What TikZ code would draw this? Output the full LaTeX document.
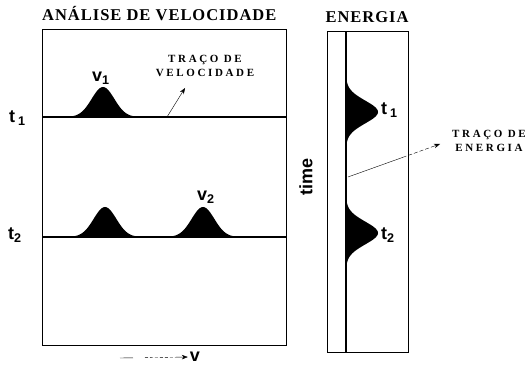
\documentclass[tikz,border=0pt]{standalone}
\usepackage{fontspec}
\setmainfont{Liberation Serif}
\setsansfont{Liberation Sans}
\usetikzlibrary{arrows.meta,positioning}

\begin{document}
\begin{tikzpicture}[x=1pt,y=-1pt,
    panel/.style={draw,line width=1pt},
    trace/.style={line width=1.4pt},
    title/.style={font=\fontsize{16.5}{18}\selectfont\bfseries\addfontfeatures{LetterSpace=6},anchor=base west,inner sep=0pt},
    note/.style={font=\fontsize{11}{14.5}\selectfont\bfseries\addfontfeatures{LetterSpace=24},align=center,inner sep=1pt},
    lab/.style={font=\fontsize{18}{18}\selectfont\sffamily\bfseries,anchor=base west,inner sep=0pt},
    >={Stealth[length=6pt,width=4.5pt]}
  ]
  \useasboundingbox (0,0) rectangle (530,366);

  % velocity panel
  \node[title] (vtitle) at (42,21) {ANÁLISE DE VELOCIDADE};
  \draw[panel] (42,30) rectangle (286,345);
  \draw[trace] (42,117) -- (286,117);
  \draw[trace] (42,237) -- (286,237);
  \foreach \cx/\cy in {103/117,105/237,203/237}
    \fill plot[domain=-36:36,samples=49] ({\cx+\x},{\cy-30*exp(-((\x)*(\x)/256))}) -- cycle;

  \node[lab] (vone) at (92,82) {v\textsubscript{1}};
  \node[lab] (vtwo) at (197,201) {v\textsubscript{2}};
  \node[lab] (tone) at (9,123) {t\,\textsubscript{1}};
  \node[lab] (ttwo) at (8,240) {t\textsubscript{2}};

  \node[note] (vnote) at (205,66) {TRAÇO DE\\VELOCIDADE};
  \coordinate (vfoot) at (167,117);
  \coordinate (vtip) at (185,88);
  \draw[->] (vfoot) -- (vtip);

  \node[lab,anchor=center] (vaxis) at (195,357) {v};
  \coordinate (vstart) at (120,358);
  \draw[->,shorten >=2pt,dash pattern=on 13pt off 12pt on 3pt off 2pt on 3pt off 2pt on 3pt off 2pt on 3pt off 2pt on 3pt off 2pt on 3pt off 2pt on 12pt]
    (vstart) -- (vaxis.west);

  % energy panel
  \node[title,anchor=base] (etitle) at (367,23) {ENERGIA};
  \draw[panel] (327,32) rectangle (408,352);
  \draw[trace] (346,32) -- (346,352);
  \foreach \cy in {112,233}
    \fill plot[domain=-36:36,samples=49] ({346+32*exp(-((\x)*(\x)/256))},{\cy+\x}) -- cycle;

  \node[lab] (eone) at (381,115) {t\,\textsubscript{1}};
  \node[lab] (etwo) at (381,240) {t\textsubscript{2}};
  \node[lab,anchor=center,rotate=90] (time) at (306,177) {time};

  \node[note] (enote) at (489,141) {TRAÇO DE\\ENERGIA};
  \coordinate (efoot) at (348,177);
  \coordinate (etip) at (440,144);
  \draw[->,dash pattern=on 62pt off 2pt on 4pt off 2pt on 4pt off 2pt on 4pt off 2pt on 4pt off 2pt on 20pt]
    (efoot) -- (etip);
\end{tikzpicture}
\end{document}
